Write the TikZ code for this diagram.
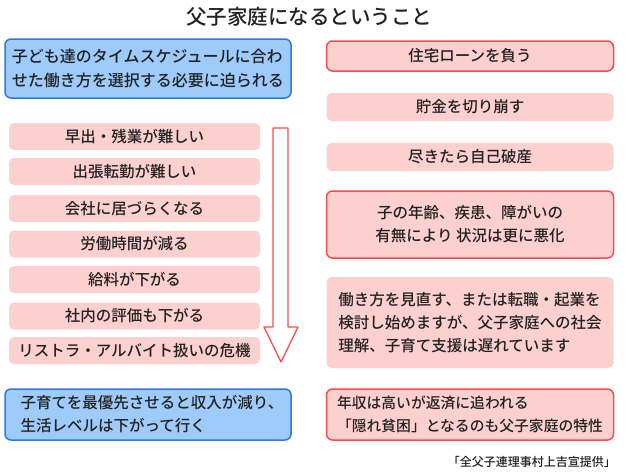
\documentclass[tikz,border=0pt]{standalone}
\usepackage{fontspec}
\setmainfont{Noto Sans CJK JP}[UprightFont={* Medium}]
\definecolor{pinkfill}{RGB}{253,208,208}
\definecolor{bluefill}{RGB}{158,203,250}
\definecolor{blueline}{RGB}{52,120,210}
\definecolor{redline}{RGB}{240,80,80}
\definecolor{ink}{RGB}{34,34,34}
\tikzset{
  txt/.style={text=ink,font=\fontsize{15.5}{23}\selectfont,inner sep=0pt},
  bluebox/.style={txt,draw=blueline,fill=bluefill,line width=1.5pt,rounded corners=6pt,minimum width=286pt},
  redbox/.style={txt,draw=redline,fill=pinkfill,line width=1.5pt,rounded corners=6pt,minimum width=287pt},
  pinkbox/.style={txt,fill=pinkfill,rounded corners=5pt,minimum width=287pt},
  stepbox/.style={pinkbox,minimum width=251pt,minimum height=27pt},
}
\begin{document}
\begin{tikzpicture}[x=1pt,y=-1pt]
    \useasboundingbox[fill=white] (0,0) rectangle (630,472);
    \node (title) [txt,font=\fontsize{20.5}{24}\selectfont] at (309,17) {父子家庭になるということ};
    % left column
    \node (need) [bluebox,minimum height=59pt,align=left,font=\fontsize{16}{24}\selectfont] at (148,68.5)
        {子ども達のタイムスケジュールに合わ\\せた働き方を選択する必要に迫られる};
    \node (s1) [stepbox] at (134.5,136.5) {早出・残業が難しい};
    \node (s2) [stepbox] at (134.5,171.5) {出張転勤が難しい};
    \node (s3) [stepbox] at (134.5,208.5) {会社に居づらくなる};
    \node (s4) [stepbox] at (134.5,244) {労働時間が減る};
    \node (s5) [stepbox] at (134.5,279.5) {給料が下がる};
    \node (s6) [stepbox] at (134.5,316) {社内の評価も下がる};
    \node (s7) [stepbox] at (134.5,350.5) {リストラ・アルバイト扱いの危機};
    \draw [redline,fill=white,line width=1.3pt,line join=round]
        (273,128) -- (288,128) -- (288,327) -- (298,327) -- (281,362)
        -- (264,327) -- (273,327) -- cycle;
    \node (life) [bluebox,minimum height=51pt,align=left] at (148,414.5)
        {\hspace*{8pt}子育てを最優先させると収入が減り、\\\hspace*{8pt}生活レベルは下がって行く};
    % right column
    \node (loan) [redbox,minimum height=30pt] at (470,56) {住宅ローンを負う};
    \node (save) [pinkbox,minimum height=28pt] at (470,107) {貯金を切り崩す};
    \node (bank) [pinkbox,minimum height=28pt] at (470,157) {尽きたら自己破産};
    \node (worse) [redbox,minimum height=67pt,align=center] at (470,224.5)
        {子の年齢、疾患、障がいの\\有無により 状況は更に悪化};
    \node (work) [pinkbox,minimum height=91pt,align=left] at (470,322.5)
        {働き方を見直す、または転職・起業を\\検討し始めますが、父子家庭への社会\\理解、子育て支援は遅れています};
    \node (hidden) [redbox,minimum height=51pt,align=left,font=\fontsize{14.8}{23}\selectfont] at (470,414.5)
        {年収は高いが返済に追われる\\「隠れ貧困」となるのも父子家庭の特性};
    \node (src) [txt,font=\fontsize{12}{14}\selectfont,anchor=east] at (616,462) {「全父子連理事村上吉宣提供」};
\end{tikzpicture}
\end{document}
